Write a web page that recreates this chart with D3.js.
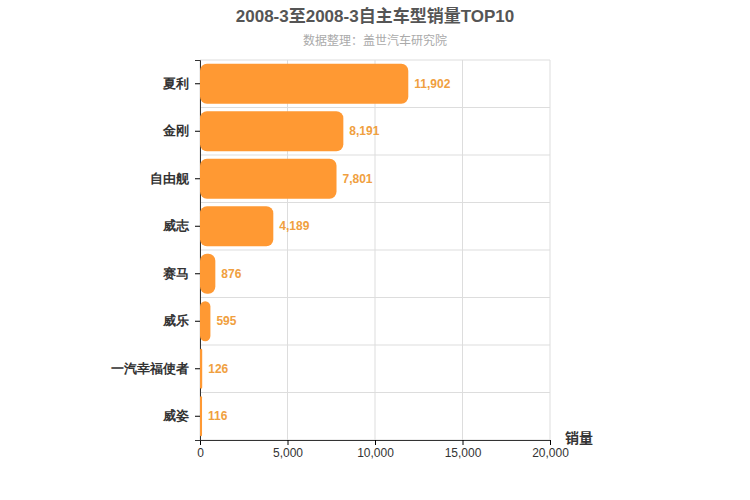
<!DOCTYPE html>
<head>
  <meta charset="utf-8">
  <script src="https://d3js.org/d3.v7.min.js"></script>
  <style>
    body { margin:0; }
    svg { font-family: "Liberation Sans", "Noto Sans CJK SC", sans-serif; }
  </style>
</head>
<body>
  <script>
  // ---------- data ----------
    var categories = ["夏利", "金刚", "自由舰", "威志", "赛马", "威乐", "一汽幸福使者", "威姿"];
    var sales = [11902, 8191, 7801, 4189, 876, 595, 126, 116];
    var ticks = [0, 5000, 10000, 15000, 20000];

    var W = 750, H = 500;
    var m = {left: 200, right: 550, top: 60, bottom: 440};

    var svg = d3.select("body").append("svg")
      .attr("width", W)
      .attr("height", H);

    var x = d3.scaleLinear().domain([0, 20000]).range([m.left, m.right]);
    var y = d3.scaleBand().domain(categories).range([m.top, m.bottom]).paddingInner(0.16).paddingOuter(0.08);
    var yb = d3.scaleBand().domain(categories).range([m.top, m.bottom]);

  // ---------- title ----------
    svg.append("text").attr("x", 375).attr("y", 22).attr("text-anchor", "middle")
      .attr("font-size", 17).attr("font-weight", "bold").attr("fill", "#555")
      .text("2008-3至2008-3自主车型销量TOP10");
    svg.append("text").attr("x", 375).attr("y", 45).attr("text-anchor", "middle")
      .attr("font-size", 12).attr("fill", "#aaa")
      .text("数据整理：盖世汽车研究院");

  // ---------- grid ----------
    svg.selectAll(".vg").data(ticks).enter().append("line")
      .attr("x1", d => x(d)).attr("x2", d => x(d))
      .attr("y1", m.top).attr("y2", m.bottom)
      .attr("stroke", "#ddd");
    svg.selectAll(".hg").data(categories).enter().append("line")
      .attr("x1", m.left).attr("x2", m.right)
      .attr("y1", d => yb(d)).attr("y2", d => yb(d))
      .attr("stroke", "#ddd");
    svg.append("line").attr("x1", m.left).attr("x2", m.right)
      .attr("y1", m.bottom).attr("y2", m.bottom).attr("stroke", "#ddd");

  // ---------- axes ----------
    var xAxis = svg.append("g").attr("transform", "translate(0," + m.bottom + ")")
      .call(d3.axisBottom(x).tickValues(ticks).tickSize(5).tickFormat(d3.format(",")));
    xAxis.select(".domain").attr("stroke", "#333");
    xAxis.selectAll("text").attr("font-size", 12).attr("fill", "#333");

    var yAxis = svg.append("g").attr("transform", "translate(" + m.left + ",0)")
      .call(d3.axisLeft(yb).tickSize(5).tickPadding(6));
    yAxis.select(".domain").attr("stroke", "#333");
    yAxis.selectAll("text").attr("font-size", 13).attr("font-weight", "bold").attr("fill", "#333");

    svg.append("text").attr("x", 565).attr("y", 443)
      .attr("font-size", 14).attr("font-weight", "bold").attr("fill", "#333").text("销量");

  // ---------- bars ----------
    svg.selectAll(".bar").data(sales).enter().append("rect")
      .attr("x", x(0))
      .attr("y", (d, i) => y(categories[i]))
      .attr("width", d => x(d) - x(0))
      .attr("height", y.bandwidth())
      .attr("rx", d => Math.min(7, (x(d) - x(0)) / 2))
      .attr("fill", "#ff9933");

    svg.selectAll(".lbl").data(sales).enter().append("text")
      .attr("x", d => x(d) + 6)
      .attr("y", (d, i) => y(categories[i]) + y.bandwidth() / 2 + 4)
      .attr("font-size", 12).attr("font-weight", "bold").attr("fill", "#f0a040")
      .text(d => d3.format(",")(d));
  </script>
</body>
